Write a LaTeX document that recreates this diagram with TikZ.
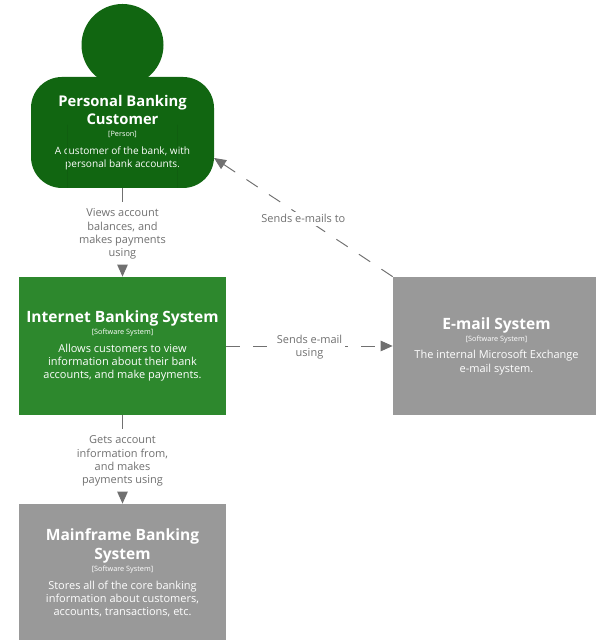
\documentclass[tikz,border=0pt]{standalone}
\usepackage{fontspec}
\setmainfont{Open Sans}
\usetikzlibrary{arrows.meta}
\definecolor{persongreen}{HTML}{116611}
\definecolor{systemgreen}{HTML}{2D882D}
\definecolor{systemgrey}{HTML}{999999}
\definecolor{flowgrey}{HTML}{707070}
\newcommand{\boxtitle}[2][8.85]{{\fontsize{#1}{10.6}\selectfont\bfseries #2\par}}
\newcommand{\boxkind}[1]{{\fontsize{4.15}{7}\selectfont [#1]\par}}
\newcommand{\boxtext}[2][6.25]{{\vspace{2.5pt}\fontsize{#1}{7.5}\selectfont #2\par}}
\tikzset{
  systembox/.style={draw=none, fill=#1, text=white, align=flush center, text width=4.14cm, minimum width=4.14cm, minimum height=2.76cm, inner sep=0pt},
  flow/.style={draw=flowgrey, line width=0.55pt, dash pattern=on 0.27cm off 0.27cm, -{Triangle[length=0.24cm,width=0.21cm,fill=flowgrey]}},
  flowlabel/.style={fill=white, text=flowgrey, align=center, inner sep=1.5pt, yshift=-0.85pt, font=\fontsize{6.25}{7.5}\selectfont}
}
\begin{document}
\begin{tikzpicture}
    \useasboundingbox (0,0) rectangle (11.9,12.8);
    %Customer
    \node[circle, fill=persongreen, minimum size=1.64cm, inner sep=0pt] (head) at (2.45,11.9) {};
    \node[systembox=persongreen, text width=3.66cm, minimum width=3.66cm, minimum height=2.22cm, rounded corners=0.62cm] (person) at (2.45,10.15)
        {\boxtitle[8.4]{Personal Banking\\Customer}\boxkind{Person}\boxtext[5.75]{A customer of the bank, with\\personal bank accounts.}};
    \draw[persongreen!93!black, line width=0.3pt] (1.35,10.3) -- (1.35,9.04);
    \draw[persongreen!93!black, line width=0.3pt] (3.54,10.3) -- (3.54,9.04);
    %Internet banking
    \node[systembox=systemgreen] (internet) at (2.45,5.88)
        {\boxtitle{Internet Banking System}\boxkind{Software System}\boxtext{Allows customers to view\\information about their bank\\accounts, and make payments.}};
    %Mainframe
    \node[systembox=systemgrey] (mainframe) at (2.45,1.34)
        {\boxtitle{Mainframe Banking\\System}\boxkind{Software System}\boxtext{Stores all of the core banking\\information about customers,\\accounts, transactions, etc.}};
    %E-mail
    \node[systembox=systemgrey] (email) at (9.93,5.88)
        {\boxtitle{E-mail System}\boxkind{Software System}\boxtext{The internal Microsoft Exchange\\e-mail system.}};
    %Relationships
    \coordinate (personmail) at (4.28,9.64);
    \draw[flow] (person) -- node[flowlabel] (viewslabel) {Views account\\balances, and\\makes payments\\using} (internet);
    \draw[flow] (internet) -- node[flowlabel] (getslabel) {Gets account\\information from,\\and makes\\payments using} (mainframe);
    \draw[flow] (internet) -- node[flowlabel] (sendlabel) {Sends e-mail\\using} (email);
    \draw[flow] (email.north west) -- node[flowlabel] (maillabel) {Sends e-mails to} (personmail);
\end{tikzpicture}
\end{document}
